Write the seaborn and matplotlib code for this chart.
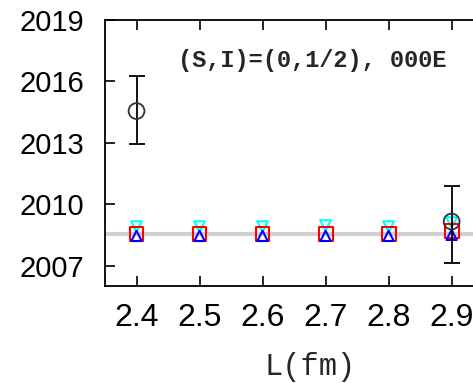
import matplotlib
matplotlib.use("Agg")
import matplotlib.pyplot as plt
import seaborn as sns
import pandas as pd

# data
L_fm = [2.4, 2.5, 2.6, 2.7, 2.8, 2.9]
cyan_vals = [2008.9, 2008.9, 2008.9, 2008.95, 2008.9, 2009.1]
red_vals = [2008.55, 2008.55, 2008.55, 2008.55, 2008.55, 2008.7]
blue_vals = [2008.45, 2008.45, 2008.45, 2008.45, 2008.45, 2008.5]

circ_L = [2.4, 2.9]
circ_vals = [2014.55, 2009.15]
circ_lo = [2012.95, 2007.1]
circ_hi = [2016.25, 2010.9]

band_level = 2008.52
y_ticks = [2007, 2010, 2013, 2016, 2019]
x_ticks = [2.4, 2.5, 2.6, 2.7, 2.8, 2.9, 3.0]


def main():
    sns.set_style("ticks")
    plt.rcParams['font.family'] = ['Liberation Sans', 'DejaVu Sans']

    fig = plt.figure(figsize=(4.73, 3.83), dpi=100)
    ax = fig.add_axes([0.222, 0.2533, 0.866, 0.6945])

    ax.axhline(band_level, color="#d0d0d0", lw=3, zorder=1)

    df = pd.DataFrame({"L": L_fm, "cyan": cyan_vals, "red": red_vals, "blue": blue_vals})
    sns.scatterplot(data=df, x="L", y="cyan", marker="v", s=60, facecolor="none",
                    edgecolor="cyan", linewidth=1.5, ax=ax, zorder=3)
    sns.scatterplot(data=df, x="L", y="red", marker="s", s=100, facecolor="none",
                    edgecolor="red", linewidth=1.5, ax=ax, zorder=3)
    sns.scatterplot(data=df, x="L", y="blue", marker="^", s=55, facecolor="none",
                    edgecolor="blue", linewidth=1.5, ax=ax, zorder=4)

    yerr = [[v - lo for v, lo in zip(circ_vals, circ_lo)],
            [hi - v for v, hi in zip(circ_vals, circ_hi)]]
    ax.errorbar(circ_L, circ_vals, yerr=yerr, fmt="none", ecolor="black",
                elinewidth=1.3, capsize=6, capthick=1.3, zorder=5)
    sns.scatterplot(x=circ_L, y=circ_vals, marker="o", s=130, facecolor="none",
                    edgecolor="#333333", linewidth=1.3, ax=ax, zorder=6)

    ax.set_xlim(2.35, 3.0)
    ax.set_ylim(2006, 2019)
    ax.set_xticks(x_ticks)
    ax.set_xticklabels([f"{t:.1f}" for t in x_ticks])
    ax.set_yticks(y_ticks)
    ax.tick_params(direction="in", length=7, width=1.2, top=True, right=True,
                   colors="black")
    ax.tick_params(axis="y", pad=15, labelsize=21)
    ax.tick_params(axis="x", pad=12, labelsize=23)
    for sp in ax.spines.values():
        sp.set_linewidth(1.3)
        sp.set_color("black")

    ax.set_ylabel("")
    ax.set_xlabel("L(fm)", fontsize=22, family="Liberation Mono", labelpad=14)

    ax.text(0.505, 0.846, "(S,I)=(0,1/2), 000E", transform=ax.transAxes,
            ha="center", va="center", fontsize=17, fontweight="bold",
            family="Liberation Mono")

    fig.savefig("out.png", dpi=100)


if __name__ == "__main__":
    main()
